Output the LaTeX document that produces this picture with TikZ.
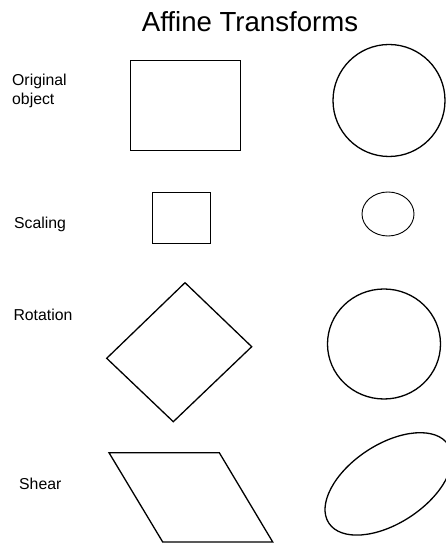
\documentclass[tikz,border=0pt]{standalone}
\usepackage{fontspec}
\setmainfont{Liberation Sans}
\begin{document}
\begin{tikzpicture}[x=1pt,y=1pt,
  lbl/.style={font=\fontsize{15.8}{19}\selectfont, inner sep=0pt, anchor=base west},
  thin shape/.style={draw, line width=0.9pt},
  thick shape/.style={draw, line width=1.3pt}]
\useasboundingbox[fill=white] (0,0) rectangle (446,543);
% title
\node[font=\fontsize{27.6}{31}\selectfont, inner sep=0pt, anchor=base] (title) at (250,511.5) {Affine Transforms};
% labels
\node[lbl, align=left] (orig) at (12,438) {Original\\object};
\node[lbl] (scal) at (14,314.7) {Scaling};
\node[lbl] (rot) at (13.3,222.3) {Rotation};
\node[lbl] (shear) at (19,53.7) {Shear};
% original
\draw[thin shape] (130,393) rectangle (240.5,483);
\draw[thick shape] (389,442.5) circle[radius=56];
% scaling
\draw[thin shape] (152,299.7) rectangle (210,351);
\draw[thin shape] (388,329) ellipse[x radius=26, y radius=22];
% rotation
\draw[thick shape] (185,260.3) -- (251.7,196.3) -- (173.3,121.3) -- (106.7,184.7) -- cycle;
\draw[thick shape] (384,199) ellipse[x radius=56.5, y radius=55];
% shear
\draw[thick shape] (109,90.3) -- (219.3,90.3) -- (272.7,1) -- (162.7,1) -- cycle;
\draw[thick shape, rotate around={33.3:(388.5,59.1)}] (388.5,59.1) ellipse[x radius=71.4, y radius=39.4];
\end{tikzpicture}
\end{document}
